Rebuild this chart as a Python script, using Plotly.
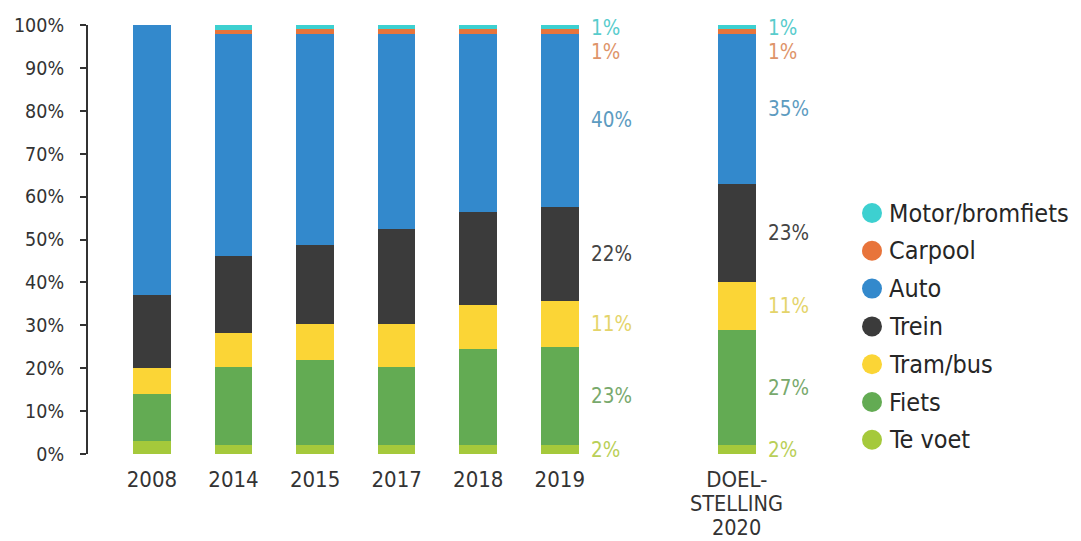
import plotly.graph_objects as go

categories = ["2008", "2014", "2015", "2017", "2018", "2019", "DOEL-"]
goal_label_extra = ["STELLING", "2020"]
modes = ["Te voet", "Fiets", "Tram/bus", "Trein", "Auto", "Carpool", "Motor/bromfiets"]

te_voet = [3, 2, 2, 2, 2, 2, 2]
fiets = [11, 18.2, 20, 18.2, 22.5, 23, 27]
tram_bus = [6, 7.9, 8.2, 10.2, 10.3, 10.7, 11]
trein = [17, 18, 18.6, 22.1, 21.6, 21.8, 23]
auto = [63, 51.7, 49.2, 45.5, 41.6, 40.5, 35]
carpool = [0, 1, 1, 1, 1, 1, 1]
motor = [0, 1.2, 1, 1, 1, 1, 1]

label_texts = ["2%", "23%", "11%", "22%", "40%", "1%", "1%"]        # 2019
label_texts_goal = ["2%", "27%", "11%", "23%", "35%", "1%", "1%"]   # doelstelling

series = [te_voet, fiets, tram_bus, trein, auto, carpool, motor]
bar_colors = ["#a5c93b", "#63ab53", "#fbd536", "#3b3b3b", "#3389cc", "#e8743b", "#3dd0d0"]
label_colors = ["#b9cf58", "#78a96c", "#e4d46a", "#444444", "#5c9bc0", "#de946a", "#58cccc"]

FONT = "DejaVu Sans Condensed, sans-serif"
GAP = 1.17
x_pos = [i for i in range(6)] + [6 + GAP]
BAR_W = 0.46

# page body has an 8px margin: compensate so the plot lands at the same screen pixels
OFF = 8
W, H = 1081, 541
L, T, B = 88 - OFF, 25 - OFF, 87 + OFF
R = 261 + OFF
PH = H - T - B
PW = W - L - R

fig = go.Figure()
for name, vals, col in zip(modes, series, bar_colors):
    fig.add_trace(go.Bar(x=x_pos, y=vals, name=name, marker=dict(color=col, line=dict(width=0)),
                         width=BAR_W, showlegend=False, hoverinfo="skip"))

# value labels next to 2019 and goal bars
shifts = [0, 0, 0, 0, 0, -21, -1]
for idx, texts in ((5, label_texts), (6, label_texts_goal)):
    cum = 0
    for k, vals in enumerate(series):
        v = vals[idx]
        mid = cum + v / 2
        cum += v
        fig.add_annotation(x=x_pos[idx] + BAR_W / 2, y=mid, text=texts[k], showarrow=False,
                           xanchor="left", yanchor="middle", xshift=10, yshift=shifts[k],
                           font=dict(family=FONT, size=20.5, color=label_colors[k]))

# extra lines of the goal tick label
for j, line in enumerate(goal_label_extra):
    fig.add_annotation(x=x_pos[6], y=0, yref="paper", text=line, showarrow=False,
                       xanchor="center", yanchor="middle", yshift=-(25 + 24 * (j + 1)),
                       font=dict(family=FONT, size=21.5, color="#333333"))

# manual legend (top-to-bottom)
leg_items = list(reversed(list(zip(modes, bar_colors))))
leg_marker_px = 872
leg_text_px = 887
leg_top_px = 213
leg_step = 37.8
for i, (name, col) in enumerate(leg_items):
    py = leg_top_px + i * leg_step
    yp = (454 - py) / PH
    xm = (leg_marker_px - 88) / PW
    xt = (leg_text_px - 88) / PW
    fig.add_shape(type="circle", xref="paper", yref="paper", xsizemode="pixel", ysizemode="pixel",
                  xanchor=xm, yanchor=yp, x0=-10, x1=10, y0=-10, y1=10,
                  fillcolor=col, line=dict(width=0))
    fig.add_annotation(x=xt, y=yp, xref="paper", yref="paper", text=name, showarrow=False,
                       xanchor="left", yanchor="middle",
                       font=dict(family=FONT, size=25, color="#262626"))

fig.update_layout(
    barmode="stack",
    width=W, height=H,
    margin=dict(l=L, r=R, t=T, b=B, autoexpand=False),
    paper_bgcolor="white", plot_bgcolor="white",
    font=dict(family=FONT, size=19, color="#333333"),
    showlegend=False,
    bargap=0,
)
fig.update_yaxes(range=[0, 100], tickvals=list(range(0, 101, 10)),
                 ticktext=[f"{v}%" for v in range(0, 101, 10)],
                 showgrid=False, zeroline=False, showline=True, linecolor="#333333", linewidth=2,
                 ticks="outside", ticklen=6, tickwidth=2, tickcolor="#333333", ticklabelstandoff=12,
                 tickfont=dict(family=FONT, size=19.5, color="#333333"))
fig.update_xaxes(range=[-0.784, 8.19], tickvals=x_pos, ticktext=categories,
                 showgrid=False, zeroline=False, showline=False, ticks="",
                 ticklabelstandoff=10,
                 tickfont=dict(family=FONT, size=22, color="#333333"))

fig.write_html("out.html")
